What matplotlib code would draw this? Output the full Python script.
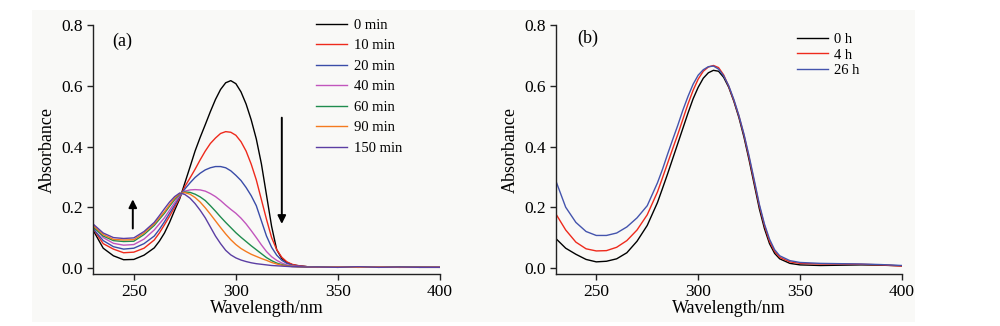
import matplotlib
matplotlib.use("Agg")
import matplotlib.pyplot as plt
from matplotlib.patches import Rectangle

plt.rcParams['font.family'] = ['Liberation Serif', 'DejaVu Serif']

#-------data: (a) spectra vs irradiation time-------
# coarse steps at the ends, 2.5 nm steps over the band
wl_a = [230, 235, 240, 245, 250, 255,
        260, 262.5, 265, 267.5, 270, 272.5, 275, 277.5, 280, 282.5, 285, 287.5,
        290, 292.5, 295, 297.5, 300, 302.5, 305, 307.5, 310, 312.5, 315, 317.5,
        320, 322.5, 325, 327.5, 330,
        335, 340, 350, 360, 370, 380, 390, 400]

abs_0min = [0.125, 0.065, 0.040, 0.027, 0.028, 0.042,
            0.066, 0.088, 0.115, 0.150, 0.190, 0.228, 0.280, 0.332, 0.385, 0.430,
            0.472, 0.515, 0.555, 0.588, 0.610, 0.617, 0.607, 0.580, 0.540, 0.488,
            0.425, 0.343, 0.240, 0.137, 0.060, 0.031, 0.018, 0.011, 0.008,
            0.004, 0.003, 0.002, 0.003, 0.002, 0.003, 0.002, 0.002]
abs_10min = [0.130, 0.080, 0.062, 0.050, 0.052, 0.065,
             0.092, 0.115, 0.142, 0.170, 0.200, 0.232, 0.268, 0.296, 0.325, 0.356,
             0.385, 0.410, 0.428, 0.443, 0.449, 0.447, 0.437, 0.416, 0.385, 0.342,
             0.290, 0.225, 0.160, 0.100, 0.060, 0.035, 0.020, 0.012, 0.008,
             0.004, 0.003, 0.003, 0.002, 0.003, 0.002, 0.003, 0.002]
abs_20min = [0.130, 0.090, 0.070, 0.062, 0.065, 0.080,
             0.105, 0.127, 0.152, 0.180, 0.207, 0.236, 0.260, 0.280, 0.298, 0.312,
             0.323, 0.330, 0.334, 0.334, 0.330, 0.320, 0.305, 0.288, 0.265, 0.238,
             0.205, 0.155, 0.105, 0.068, 0.042, 0.025, 0.015, 0.009, 0.006,
             0.004, 0.003, 0.002, 0.003, 0.002, 0.002, 0.003, 0.002]
abs_40min = [0.140, 0.100, 0.081, 0.075, 0.077, 0.095,
             0.125, 0.145, 0.165, 0.190, 0.215, 0.240, 0.253, 0.257, 0.258, 0.257,
             0.253, 0.245, 0.235, 0.222, 0.207, 0.193, 0.180, 0.164, 0.145, 0.123,
             0.100, 0.076, 0.054, 0.037, 0.025, 0.016, 0.010, 0.007, 0.005,
             0.004, 0.003, 0.003, 0.002, 0.003, 0.002, 0.002, 0.003]
abs_60min = [0.135, 0.105, 0.090, 0.087, 0.088, 0.110,
             0.140, 0.160, 0.180, 0.203, 0.225, 0.243, 0.250, 0.249, 0.243, 0.234,
             0.222, 0.205, 0.187, 0.168, 0.150, 0.133, 0.116, 0.101, 0.087, 0.073,
             0.060, 0.047, 0.034, 0.024, 0.016, 0.011, 0.007, 0.005, 0.004,
             0.003, 0.003, 0.002, 0.003, 0.002, 0.003, 0.002, 0.002]
abs_90min = [0.140, 0.110, 0.094, 0.092, 0.093, 0.115,
             0.145, 0.165, 0.185, 0.208, 0.230, 0.245, 0.248, 0.243, 0.232, 0.217,
             0.198, 0.177, 0.155, 0.133, 0.112, 0.093, 0.077, 0.064, 0.054, 0.045,
             0.038, 0.031, 0.025, 0.018, 0.013, 0.009, 0.006, 0.005, 0.004,
             0.003, 0.002, 0.003, 0.002, 0.003, 0.002, 0.002, 0.002]
abs_150min = [0.145, 0.115, 0.100, 0.097, 0.099, 0.120,
              0.150, 0.172, 0.195, 0.217, 0.235, 0.247, 0.242, 0.230, 0.212, 0.190,
              0.165, 0.135, 0.105, 0.080, 0.058, 0.043, 0.033, 0.026, 0.021, 0.017,
              0.014, 0.012, 0.010, 0.008, 0.007, 0.006, 0.005, 0.004, 0.004,
              0.003, 0.003, 0.002, 0.004, 0.002, 0.003, 0.002, 0.002]

labels_a = ["0 min", "10 min", "20 min", "40 min", "60 min", "90 min", "150 min"]
series_a = [abs_0min, abs_10min, abs_20min, abs_40min, abs_60min, abs_90min, abs_150min]
colors_a = ["#000000", "#ee2a1c", "#3a4ca8", "#c155bd", "#1f8c4e", "#f47a1f", "#5b3ea3"]

#-------data: (b) spectra in the dark-------
wl_b = [230, 235, 240, 245, 250, 255, 260, 265, 270, 275,
        280, 282.5, 285, 287.5, 290, 292.5, 295, 297.5, 300, 302.5, 305, 307.5,
        310, 312.5, 315, 317.5, 320, 322.5, 325, 327.5, 330, 332.5, 335, 337.5, 340,
        345, 350, 360, 370, 380, 390, 400]

abs_0h = [0.098, 0.065, 0.045, 0.028, 0.020, 0.022, 0.030, 0.050, 0.088, 0.140,
          0.215, 0.262, 0.310, 0.360, 0.410, 0.460, 0.510, 0.557, 0.595, 0.625,
          0.643, 0.651, 0.648, 0.628, 0.595, 0.549, 0.495, 0.430, 0.355, 0.275,
          0.195, 0.130, 0.080, 0.048, 0.030,
          0.015, 0.010, 0.008, 0.009, 0.010, 0.009, 0.007]
abs_4h = [0.180, 0.125, 0.085, 0.063, 0.056, 0.057, 0.068, 0.090, 0.125, 0.175,
          0.250, 0.297, 0.345, 0.393, 0.440, 0.490, 0.540, 0.585, 0.622, 0.648,
          0.662, 0.667, 0.660, 0.636, 0.598, 0.552, 0.500, 0.437, 0.363, 0.284,
          0.205, 0.140, 0.088, 0.055, 0.035,
          0.020, 0.015, 0.013, 0.013, 0.012, 0.010, 0.006]
abs_26h = [0.290, 0.200, 0.150, 0.120, 0.107, 0.107, 0.115, 0.135, 0.165, 0.205,
           0.280, 0.325, 0.375, 0.423, 0.470, 0.520, 0.565, 0.605, 0.635, 0.653,
           0.663, 0.665, 0.655, 0.633, 0.600, 0.555, 0.502, 0.440, 0.368, 0.290,
           0.210, 0.145, 0.095, 0.060, 0.040,
           0.024, 0.018, 0.015, 0.014, 0.013, 0.011, 0.008]

labels_b = ["0 h", "4 h", "26 h"]
series_b = [abs_0h, abs_4h, abs_26h]
colors_b = ["#000000", "#ee2a1c", "#4454ad"]

# arrows showing the trend in (a): (x, y_tail, y_head)
arrow_up = (249.5, 0.130, 0.226)
arrow_down = (322.5, 0.495, 0.145)


#-------FUNCTION-------
def styleAxes(ax):
    for side in ["top", "right"]:
        ax.spines[side].set_visible(False)
    for side in ["left", "bottom"]:
        ax.spines[side].set_linewidth(1.0)
        ax.spines[side].set_color("#222222")
    ax.set_xlim(230, 400)
    ax.set_ylim(-0.02, 0.8)
    ax.set_xticks([250, 300, 350, 400])
    ax.set_yticks([0.0, 0.2, 0.4, 0.6, 0.8])
    ax.set_yticklabels(["0.0", "0.2", "0.4", "0.6", "0.8"])
    ax.tick_params(direction="out", length=4, width=1.0, labelsize=12.5,
                   pad=3, color="#222222")
    ax.set_xlabel("Wavelength/nm", fontsize=13, labelpad=0)
    ax.set_ylabel("Absorbance", fontsize=13, labelpad=4)
    ax.patch.set_alpha(0)


#-------graph-------
fig = plt.figure(figsize=(10, 3.26), dpi=100)
fig.patch.set_facecolor("white")
fig.add_artist(Rectangle((0.032, 0.012), 0.883, 0.958, transform=fig.transFigure,
                         facecolor="#f9f9f7", edgecolor="none", zorder=-1))

axA = fig.add_axes([0.093, 0.1595, 0.347, 0.7635])
axB = fig.add_axes([0.5555, 0.1595, 0.3465, 0.7635])

for y, c, lab in zip(series_a, colors_a, labels_a):
    axA.plot(wl_a, y, color=c, lw=1.0, label=lab)
for y, c, lab in zip(series_b, colors_b, labels_b):
    axB.plot(wl_b, y, color=c, lw=1.0, label=lab)

styleAxes(axA)
styleAxes(axB)

axA.text(0.055, 0.915, "(a)", transform=axA.transAxes, fontsize=13)
axB.text(0.063, 0.93, "(b)", transform=axB.transAxes, fontsize=13)

for x, y0, y1 in [arrow_up, arrow_down]:
    axA.annotate("", xy=(x, y1), xytext=(x, y0),
                 arrowprops=dict(arrowstyle="-|>", color="k", lw=1.4,
                                 mutation_scale=12, shrinkA=0, shrinkB=0))

axA.legend(loc="upper left", bbox_to_anchor=(0.316, 0.9435),
           bbox_transform=fig.transFigure, frameon=False, fontsize=10.5,
           handlelength=2.1, handletextpad=0.5, labelspacing=0.5,
           borderpad=0, borderaxespad=0)
axB.legend(loc="upper left", bbox_to_anchor=(0.797, 0.899),
           bbox_transform=fig.transFigure, frameon=False, fontsize=10.5,
           handlelength=2.1, handletextpad=0.45, labelspacing=0.15,
           borderpad=0, borderaxespad=0)

# the scanned figure is cut off just right of panel (b)
fig.add_artist(Rectangle((0.915, 0), 0.085, 1, transform=fig.transFigure,
                         facecolor="white", edgecolor="none", zorder=10))

fig.savefig("out.png", dpi=100)
